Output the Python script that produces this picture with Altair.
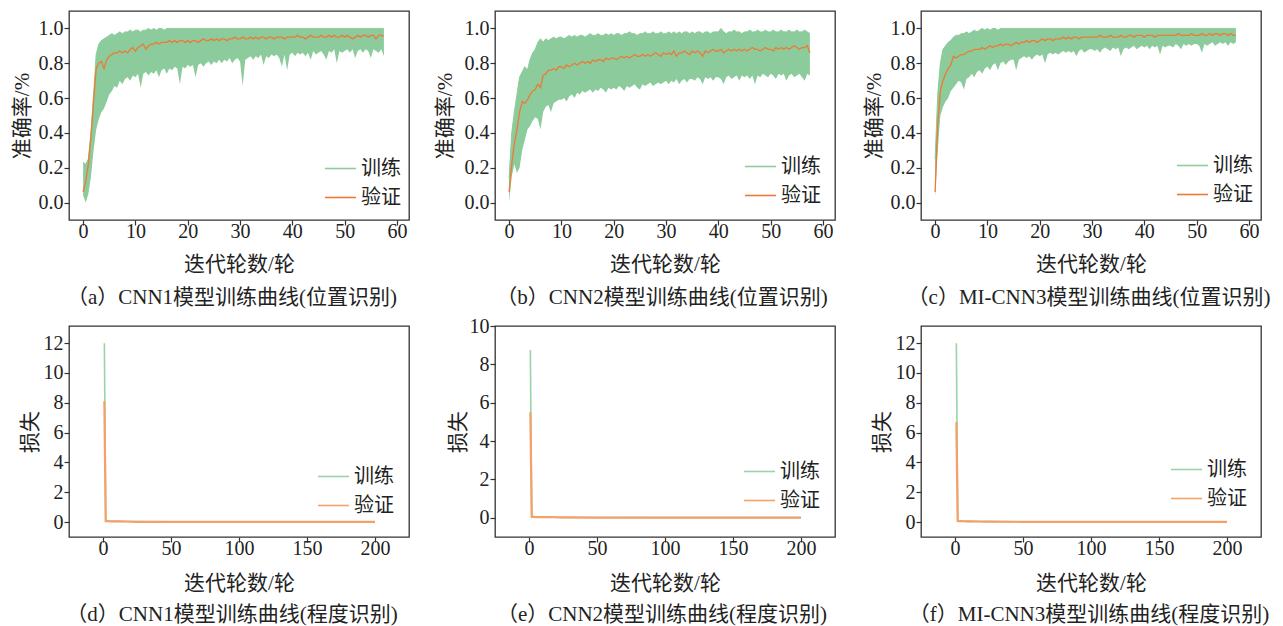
import altair as alt
import pandas as pd

FONT = "Liberation Serif, Noto Sans CJK SC"
TXT = "#222222"
GREEN = "#8ccb9c"
ORANGE = "#ee7a34"
LOSS_GREEN = "#97d4a7"
LOSS_ORANGE = "#f5a068"

# ---------------- accuracy data (epoch step 0.5, 0 .. 57.5) ----------------
epochs_acc = [i * 0.5 for i in range(116)]

hi_a = [0.23, 0.22, 0.25, 0.40, 0.62, 0.85, 0.91, 0.93, 0.94, 0.95,
        0.96, 0.97, 0.96, 0.97, 0.98, 0.97, 0.98, 0.98, 0.99, 0.98,
        0.99, 0.99, 0.98, 0.99, 0.99, 1.00, 0.99, 1.00, 0.99, 1.00,
        1.00, 0.99, 1.00, 1.00, 1.00, 1.00, 1.00, 1.00, 1.00, 1.00,
        1.00, 1.00, 1.00, 1.00, 1.00, 1.00, 1.00, 1.00, 1.00, 1.00,
        1.00, 1.00, 1.00, 1.00, 1.00, 1.00, 1.00, 1.00, 1.00, 1.00,
        1.00, 1.00, 1.00, 1.00, 1.00, 1.00, 1.00, 1.00, 1.00, 1.00,
        1.00, 1.00, 1.00, 1.00, 1.00, 1.00, 1.00, 1.00, 1.00, 1.00,
        1.00, 1.00, 1.00, 1.00, 1.00, 1.00, 1.00, 1.00, 1.00, 1.00,
        1.00, 1.00, 1.00, 1.00, 1.00, 1.00, 1.00, 1.00, 1.00, 1.00,
        1.00, 1.00, 1.00, 1.00, 1.00, 1.00, 1.00, 1.00, 1.00, 1.00,
        1.00, 1.00, 1.00, 1.00, 1.00, 1.00]
lo_a = [0.04, 0.00, 0.05, 0.15, 0.30, 0.42, 0.48, 0.52, 0.54, 0.58,
        0.62, 0.64, 0.67, 0.66, 0.70, 0.68, 0.71, 0.72, 0.70, 0.73,
        0.72, 0.74, 0.66, 0.74, 0.75, 0.73, 0.75, 0.74, 0.76, 0.72,
        0.76, 0.77, 0.74, 0.77, 0.76, 0.78, 0.77, 0.68, 0.78, 0.77,
        0.79, 0.78, 0.79, 0.72, 0.79, 0.80, 0.78, 0.80, 0.81, 0.79,
        0.81, 0.80, 0.82, 0.80, 0.82, 0.81, 0.83, 0.80, 0.82, 0.83,
        0.81, 0.67, 0.82, 0.83, 0.84, 0.82, 0.84, 0.83, 0.85, 0.79,
        0.84, 0.83, 0.85, 0.84, 0.85, 0.83, 0.78, 0.85, 0.76, 0.85,
        0.86, 0.84, 0.86, 0.85, 0.86, 0.84, 0.86, 0.82, 0.87, 0.85,
        0.86, 0.87, 0.85, 0.82, 0.87, 0.86, 0.88, 0.80, 0.87, 0.86,
        0.87, 0.88, 0.86, 0.88, 0.83, 0.87, 0.88, 0.86, 0.88, 0.87,
        0.83, 0.88, 0.87, 0.86, 0.88, 0.84]
val_a = [0.06, 0.12, 0.22, 0.38, 0.58, 0.77, 0.80, 0.81, 0.77, 0.82,
         0.84, 0.85, 0.86, 0.86, 0.87, 0.86, 0.87, 0.86, 0.88, 0.89,
         0.87, 0.89, 0.90, 0.91, 0.88, 0.90, 0.91, 0.91, 0.92, 0.91,
         0.92, 0.92, 0.92, 0.93, 0.92, 0.93, 0.92, 0.93, 0.93, 0.92,
         0.93, 0.92, 0.93, 0.93, 0.92, 0.93, 0.94, 0.93, 0.93, 0.94,
         0.93, 0.94, 0.93, 0.94, 0.94, 0.93, 0.94, 0.94, 0.95, 0.94,
         0.94, 0.95, 0.94, 0.94, 0.95, 0.94, 0.95, 0.94, 0.95, 0.95,
         0.94, 0.95, 0.95, 0.94, 0.95, 0.95, 0.95, 0.94, 0.95, 0.95,
         0.95, 0.95, 0.96, 0.95, 0.95, 0.94, 0.95, 0.96, 0.95, 0.95,
         0.95, 0.96, 0.95, 0.95, 0.96, 0.95, 0.96, 0.95, 0.95, 0.96,
         0.95, 0.96, 0.95, 0.94, 0.95, 0.96, 0.95, 0.96, 0.96, 0.95,
         0.96, 0.96, 0.94, 0.96, 0.96, 0.955]

hi_b = [0.14, 0.40, 0.52, 0.62, 0.72, 0.75, 0.78, 0.76, 0.82, 0.86,
        0.88, 0.92, 0.94, 0.92, 0.94, 0.93, 0.94, 0.95, 0.94, 0.95,
        0.95, 0.94, 0.95, 0.96, 0.95, 0.96, 0.95, 0.96, 0.96, 0.95,
        0.96, 0.97, 0.96, 0.96, 0.97, 0.96, 0.96, 0.97, 0.96, 0.97,
        0.96, 0.97, 0.97, 0.96, 0.97, 0.97, 0.98, 0.97, 0.97, 0.96,
        0.97, 0.97, 0.98, 0.97, 0.97, 0.98, 0.97, 0.97, 0.98, 0.97,
        0.97, 0.98, 0.97, 0.98, 0.97, 0.98, 0.97, 0.98, 0.98, 0.97,
        0.98, 0.97, 0.98, 0.98, 0.97, 0.98, 0.98, 0.97, 0.98, 0.98,
        0.98, 1.00, 0.98, 0.97, 0.98, 0.98, 0.99, 0.98, 0.98, 0.97,
        0.98, 0.98, 0.99, 0.98, 0.98, 0.99, 0.98, 0.98, 0.99, 0.98,
        0.98, 0.99, 0.98, 0.98, 0.99, 0.98, 0.98, 0.99, 0.98, 0.98,
        0.99, 0.98, 0.98, 0.99, 0.98, 0.97]
lo_b = [0.00, 0.15, 0.22, 0.17, 0.20, 0.30, 0.36, 0.42, 0.44, 0.47,
        0.49, 0.48, 0.42, 0.52, 0.55, 0.56, 0.52, 0.57, 0.58, 0.59,
        0.59, 0.60, 0.58, 0.61, 0.62, 0.60, 0.63, 0.62, 0.64, 0.63,
        0.64, 0.65, 0.63, 0.65, 0.64, 0.66, 0.65, 0.63, 0.66, 0.65,
        0.66, 0.65, 0.67, 0.66, 0.64, 0.67, 0.66, 0.67, 0.68, 0.66,
        0.65, 0.68, 0.67, 0.68, 0.69, 0.67, 0.68, 0.69, 0.68, 0.69,
        0.70, 0.68, 0.70, 0.69, 0.71, 0.68, 0.70, 0.71, 0.69, 0.71,
        0.71, 0.70, 0.72, 0.71, 0.68, 0.72, 0.71, 0.72, 0.70, 0.72,
        0.72, 0.71, 0.68, 0.72, 0.73, 0.71, 0.72, 0.73, 0.70, 0.73,
        0.72, 0.73, 0.71, 0.73, 0.68, 0.73, 0.72, 0.74, 0.73, 0.72,
        0.74, 0.73, 0.71, 0.74, 0.73, 0.74, 0.70, 0.73, 0.74, 0.72,
        0.73, 0.74, 0.72, 0.70, 0.74, 0.73]
val_b = [0.06, 0.22, 0.34, 0.42, 0.52, 0.58, 0.57, 0.59, 0.62, 0.64,
         0.65, 0.68, 0.66, 0.73, 0.74, 0.76, 0.76, 0.77, 0.76, 0.78,
         0.78, 0.77, 0.79, 0.78, 0.79, 0.80, 0.79, 0.80, 0.81, 0.80,
         0.81, 0.80, 0.82, 0.81, 0.82, 0.82, 0.81, 0.83, 0.82, 0.83,
         0.83, 0.82, 0.83, 0.84, 0.83, 0.84, 0.83, 0.84, 0.85, 0.84,
         0.84, 0.85, 0.84, 0.85, 0.84, 0.85, 0.86, 0.85, 0.84, 0.86,
         0.85, 0.86, 0.85, 0.87, 0.84, 0.86, 0.86, 0.87, 0.86, 0.85,
         0.87, 0.86, 0.87, 0.86, 0.84, 0.87, 0.86, 0.87, 0.88, 0.87,
         0.87, 0.88, 0.86, 0.87, 0.88, 0.87, 0.88, 0.87, 0.88, 0.87,
         0.88, 0.87, 0.88, 0.89, 0.88, 0.88, 0.87, 0.88, 0.89, 0.88,
         0.88, 0.87, 0.89, 0.88, 0.89, 0.88, 0.89, 0.88, 0.89, 0.90,
         0.89, 0.88, 0.89, 0.89, 0.90, 0.86]

hi_c = [0.25, 0.62, 0.80, 0.88, 0.90, 0.92, 0.93, 0.95, 0.96, 0.96,
        0.97, 0.97, 0.98, 0.97, 0.98, 0.99, 0.98, 0.99, 1.00, 0.99,
        1.00, 0.99, 1.00, 1.00, 0.99, 1.00, 1.00, 1.00, 1.00, 1.00,
        1.00, 1.00, 1.00, 1.00, 1.00, 1.00, 1.00, 1.00, 1.00, 1.00,
        1.00, 1.00, 1.00, 1.00, 1.00, 1.00, 1.00, 1.00, 1.00, 1.00,
        1.00, 1.00, 1.00, 1.00, 1.00, 1.00, 1.00, 1.00, 1.00, 1.00,
        1.00, 1.00, 1.00, 1.00, 1.00, 1.00, 1.00, 1.00, 1.00, 1.00,
        1.00, 1.00, 1.00, 1.00, 1.00, 1.00, 1.00, 1.00, 1.00, 1.00,
        1.00, 1.00, 1.00, 1.00, 1.00, 1.00, 1.00, 1.00, 1.00, 1.00,
        1.00, 1.00, 1.00, 1.00, 1.00, 1.00, 1.00, 1.00, 1.00, 1.00,
        1.00, 1.00, 1.00, 1.00, 1.00, 1.00, 1.00, 1.00, 1.00, 1.00,
        1.00, 1.00, 1.00, 1.00, 1.00, 1.00]
lo_c = [0.03, 0.30, 0.50, 0.55, 0.58, 0.60, 0.64, 0.66, 0.68, 0.70,
        0.69, 0.65, 0.71, 0.72, 0.74, 0.72, 0.75, 0.76, 0.74, 0.77,
        0.78, 0.76, 0.79, 0.80, 0.76, 0.80, 0.81, 0.79, 0.81, 0.82,
        0.82, 0.76, 0.82, 0.83, 0.84, 0.83, 0.84, 0.82, 0.84, 0.85,
        0.84, 0.85, 0.80, 0.85, 0.86, 0.85, 0.86, 0.85, 0.86, 0.87,
        0.86, 0.87, 0.86, 0.87, 0.84, 0.87, 0.88, 0.86, 0.87, 0.88,
        0.88, 0.87, 0.88, 0.86, 0.88, 0.89, 0.88, 0.87, 0.89, 0.88,
        0.89, 0.84, 0.88, 0.89, 0.88, 0.89, 0.90, 0.88, 0.89, 0.90,
        0.89, 0.90, 0.88, 0.90, 0.89, 0.90, 0.85, 0.90, 0.89, 0.90,
        0.90, 0.89, 0.91, 0.90, 0.88, 0.91, 0.90, 0.91, 0.90, 0.91,
        0.91, 0.90, 0.86, 0.91, 0.90, 0.91, 0.92, 0.90, 0.91, 0.92,
        0.91, 0.92, 0.90, 0.92, 0.91, 0.92]
val_c = [0.06, 0.45, 0.64, 0.70, 0.74, 0.77, 0.79, 0.84, 0.83, 0.84,
         0.85, 0.85, 0.86, 0.87, 0.87, 0.88, 0.88, 0.88, 0.89, 0.88,
         0.89, 0.90, 0.89, 0.90, 0.90, 0.91, 0.90, 0.91, 0.91, 0.90,
         0.91, 0.92, 0.91, 0.92, 0.92, 0.93, 0.92, 0.93, 0.93, 0.92,
         0.93, 0.94, 0.93, 0.94, 0.94, 0.93, 0.94, 0.94, 0.94, 0.95,
         0.94, 0.95, 0.94, 0.95, 0.95, 0.94, 0.95, 0.95, 0.95, 0.95,
         0.95, 0.95, 0.95, 0.96, 0.95, 0.95, 0.95, 0.96, 0.95, 0.95,
         0.95, 0.96, 0.95, 0.95, 0.96, 0.96, 0.95, 0.96, 0.96, 0.96,
         0.95, 0.96, 0.96, 0.96, 0.95, 0.96, 0.96, 0.96, 0.96, 0.96,
         0.96, 0.96, 0.96, 0.97, 0.96, 0.96, 0.96, 0.96, 0.97, 0.96,
         0.96, 0.96, 0.97, 0.96, 0.96, 0.97, 0.96, 0.97, 0.97, 0.96,
         0.97, 0.97, 0.96, 0.97, 0.96, 0.96]

# ---------------- loss data ----------------
epochs_loss = [1, 2, 3, 5, 10, 18, 25, 50, 100, 150, 200]
train_d = [12.0, 0.10, 0.07, 0.06, 0.05, 0.04, 0.03, 0.02, 0.02, 0.01, 0.01]
val_d = [8.1, 0.06, 0.06, 0.05, 0.05, 0.04, 0.02, 0.02, 0.01, 0.01, 0.01]
train_e = [8.75, 0.08, 0.06, 0.05, 0.04, 0.03, 0.02, 0.02, 0.01, 0.01, 0.01]
val_e = [5.5, 0.05, 0.05, 0.04, 0.04, 0.03, 0.02, 0.01, 0.01, 0.01, 0.01]
train_f = [12.0, 0.10, 0.08, 0.06, 0.05, 0.04, 0.03, 0.02, 0.02, 0.01, 0.01]
val_f = [6.7, 0.08, 0.07, 0.06, 0.05, 0.04, 0.03, 0.02, 0.01, 0.01, 0.01]

SERIES = ["训练", "验证"]
W = 340


def axis_common(**kw):
    return alt.Axis(domain=False, grid=False, ticks=True, tickSize=5, tickWidth=1.2,
                    tickColor="#333333", labelFont=FONT, labelFontSize=20,
                    labelColor=TXT, labelOverlap=False, labelFlush=False,
                    titleFont=FONT, titleFontSize=21, titleFontWeight="normal",
                    titleColor=TXT, **kw)


def legend(lx, ly):
    return alt.Legend(title=None, orient="none", legendX=lx, legendY=ly,
                      symbolType="stroke", symbolSize=961, symbolStrokeWidth=1.6,
                      labelFont=FONT, labelFontSize=20, labelColor=TXT, labelOffset=4,
                      rowPadding=2, padding=0, labelLimit=200)


def caption_layer(text, h, dx):
    return alt.Chart(pd.DataFrame({"cap": [text]})).mark_text(
        font=FONT, fontSize=21, color=TXT, align="center", baseline="top"
    ).encode(text="cap:N", x=alt.value(W / 2 + dx), y=alt.value(h + 67))


def acc_panel(hi, lo, val, caption, lx, ly, tx, dx):
    h = 209
    df = pd.DataFrame({"epoch": epochs_acc, "hi": hi, "lo": lo, "val": val})
    xs = alt.Scale(domain=[-2.7, 62.3], nice=False, zero=False)
    ys = alt.Scale(domain=[-0.1, 1.1], nice=False, zero=False)

    def xax():
        return axis_common(values=[0, 10, 20, 30, 40, 50, 60], format="d",
                           labelPadding=-4, title="迭代轮数/轮", titleY=33)

    def yax():
        return axis_common(values=[0, 0.2, 0.4, 0.6, 0.8, 1.0], format=".1f",
                           labelPadding=1, title="准确率/%", titleX=tx,
                           titleBaseline="bottom")

    sscale = alt.Scale(domain=SERIES, range=[GREEN, ORANGE])
    base = alt.Chart(df)
    band = base.mark_area(color=GREEN, opacity=1).encode(
        x=alt.X("epoch:Q", scale=xs, axis=xax()),
        y=alt.Y("lo:Q", scale=ys, axis=yax()),
        y2="hi:Q",
    )
    tr = base.transform_calculate(series="'训练'").mark_line(strokeWidth=1).encode(
        x=alt.X("epoch:Q", scale=xs, axis=xax()),
        y=alt.Y("hi:Q", scale=ys, axis=yax()),
        stroke=alt.Stroke("series:N", scale=sscale, legend=legend(lx, ly)),
    )
    va = base.transform_calculate(series="'验证'").mark_line(strokeWidth=1.3).encode(
        x=alt.X("epoch:Q", scale=xs, axis=xax()),
        y=alt.Y("val:Q", scale=ys, axis=yax()),
        stroke=alt.Stroke("series:N", scale=sscale, legend=legend(lx, ly)),
    )
    return alt.layer(band, tr, va, caption_layer(caption, h, dx)).properties(width=W, height=h)


def loss_panel(train, val, ymax, yticks, caption, lx, ly, tx, dx):
    h = 211
    df = pd.DataFrame({"epoch": epochs_loss, "train": train, "val": val})
    xs = alt.Scale(domain=[-25, 225], nice=False, zero=False)
    ys = alt.Scale(domain=[-1, ymax], nice=False, zero=False)

    def xax():
        return axis_common(values=[0, 50, 100, 150, 200], format="d", labelPadding=-4,
                           title="迭代轮数/轮", titleY=35)

    def yax():
        return axis_common(values=list(yticks), format="d", labelPadding=1,
                           tickCount=len(yticks), title="损失", titleX=tx,
                           titleBaseline="bottom")

    sscale = alt.Scale(domain=SERIES, range=[LOSS_GREEN, LOSS_ORANGE])
    base = alt.Chart(df)
    tr = base.transform_calculate(series="'训练'").mark_line(strokeWidth=1.6).encode(
        x=alt.X("epoch:Q", scale=xs, axis=xax()),
        y=alt.Y("train:Q", scale=ys, axis=yax()),
        stroke=alt.Stroke("series:N", scale=sscale, legend=legend(lx, ly)),
    )
    va = base.transform_calculate(series="'验证'").mark_line(strokeWidth=2.2).encode(
        x=alt.X("epoch:Q", scale=xs, axis=xax()),
        y=alt.Y("val:Q", scale=ys, axis=yax()),
        stroke=alt.Stroke("series:N", scale=sscale, legend=legend(lx, ly)),
    )
    return alt.layer(tr, va, caption_layer(caption, h, dx)).properties(width=W, height=h)


pa = acc_panel(hi_a, lo_a, val_a, "（a）CNN1模型训练曲线(位置识别)", 255, 141, -37, -7)
pb = acc_panel(hi_b, lo_b, val_b, "（b）CNN2模型训练曲线(位置识别)", 249, 139, -40, -3)
pc = acc_panel(hi_c, lo_c, val_c, "（c）MI-CNN3模型训练曲线(位置识别)", 255, 138, -37, -2)
pd_ = loss_panel(train_d, val_d, 13.15, [0, 2, 4, 6, 8, 10, 12],
                 "（d）CNN1模型训练曲线(程度识别)", 248, 134, -29, -7)
pe = loss_panel(train_e, val_e, 10, [0, 2, 4, 6, 8, 10],
                "（e）CNN2模型训练曲线(程度识别)", 248, 129, -27, -3)
pf = loss_panel(train_f, val_f, 13.15, [0, 2, 4, 6, 8, 10, 12],
                "（f）MI-CNN3模型训练曲线(程度识别)", 249, 127, -29, -2)

chart = alt.concat(pa, pb, pc, pd_, pe, pf, columns=3,
                   spacing={"row": 106, "column": 86}, bounds="flush").resolve_scale(
    stroke="independent", x="independent", y="independent"
).resolve_legend(stroke="independent").properties(
    padding={"left": 2, "top": 2, "right": 2, "bottom": 2}
).configure(
    font=FONT, background="white"
).configure_view(stroke="#333333", strokeWidth=1.3)

chart.save("out.html", embed_options={"renderer": "svg", "actions": False})
